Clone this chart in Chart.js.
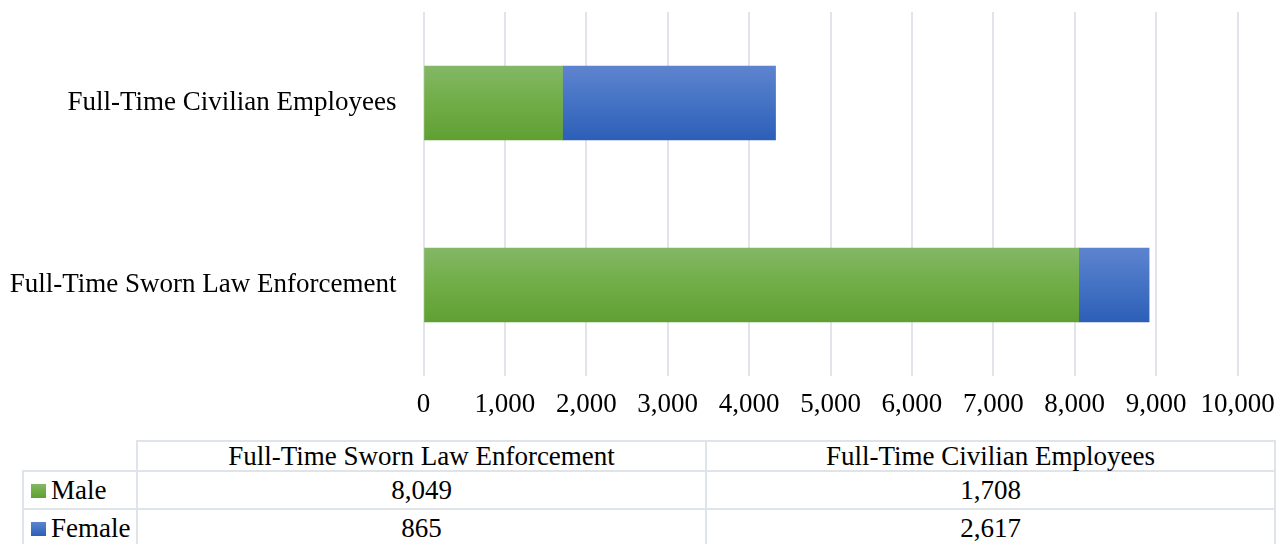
<!DOCTYPE html>
<html>
<head>
<meta charset="utf-8">
<script src="https://cdn.jsdelivr.net/npm/chart.js@4"></script>
<style>
  body { margin: 0; padding: 0; background: #fff; width: 1287px; height: 544px; overflow: hidden; position: relative; }
  #myChart { position: absolute; left: 0; top: 0; }
  #dataTable {
    position: absolute; left: 22px; top: 440px;
    border-collapse: collapse; table-layout: fixed;
    font-family: "Liberation Serif", "Times New Roman", serif;
    font-size: 27px; color: #000;
  }
  #dataTable td { border: 2px solid #dfe3ea; padding: 0; text-align: center; white-space: nowrap; line-height: 1; }
  #dataTable tr.head td { height: 28px; }
  #dataTable tr.row td { height: 36px; }
  #dataTable td.corner { border-top: none; border-left: none; }
  #dataTable td.key { text-align: left; padding-left: 7px; }
  .swatch { display: inline-block; width: 15px; height: 14px; margin-right: 5px; vertical-align: 1px; }
</style>
</head>
<body>
<canvas id="myChart" width="1287" height="432"></canvas>
<table id="dataTable"></table>
<script>
const categories = ['Full-Time Sworn Law Enforcement', 'Full-Time Civilian Employees'];
const maleValues = [8049, 1708];
const femaleValues = [865, 2617];
const xMin = 0;
const xMax = 10000;
const xStep = 1000;

const fontFamily = '"Liberation Serif", "Times New Roman", serif';

const seriesStyles = {
  Male: ['#84b766', '#70ad47', '#60a032'],
  Female: ['#5e84cf', '#4472c4', '#2d5fb8']
};

function barGradient(stops) {
  return (ctx) => {
    const chart = ctx.chart;
    const y = chart.scales && chart.scales.y;
    if (!y || ctx.type !== 'data') return stops[1];
    const c = y.getPixelForValue(ctx.dataIndex);
    if (!isFinite(c)) return stops[1];
    const g = chart.ctx.createLinearGradient(0, c - 37, 0, c + 37);
    g.addColorStop(0, stops[0]);
    g.addColorStop(0.5, stops[1]);
    g.addColorStop(1, stops[2]);
    return g;
  };
}

// data table under the chart
const fmt = (v) => v.toLocaleString('en-US');
const table = document.getElementById('dataTable');
let html = '<colgroup><col style="width:114px"><col style="width:569px"><col style="width:569px"></colgroup>';
html += '<tr class="head"><td class="corner"></td>' + categories.map(c => '<td>' + c + '</td>').join('') + '</tr>';
const rows = [['Male', maleValues], ['Female', femaleValues]];
rows.forEach(([name, vals]) => {
  const s = seriesStyles[name];
  html += '<tr class="row"><td class="key"><span class="swatch" style="background:linear-gradient(' + s[0] + ',' + s[1] + ',' + s[2] + ')"></span>' + name + '</td>' +
    vals.map(v => '<td>' + fmt(v) + '</td>').join('') + '</tr>';
});
table.innerHTML = html;

const chart = new Chart(document.getElementById('myChart'), {
  type: 'bar',
  data: {
    labels: categories,
    datasets: [
      { label: 'Male', data: maleValues, backgroundColor: barGradient(seriesStyles.Male), barThickness: 74 },
      { label: 'Female', data: femaleValues, backgroundColor: barGradient(seriesStyles.Female), barThickness: 74 }
    ]
  },
  options: {
    indexAxis: 'y',
    responsive: false,
    animation: false,
    devicePixelRatio: 1,
    layout: { padding: { top: 12, right: 49.5, left: 0, bottom: 0 } },
    plugins: { legend: { display: false }, tooltip: { enabled: false } },
    scales: {
      x: {
        stacked: true,
        min: xMin,
        max: xMax,
        ticks: { stepSize: xStep, padding: 13, color: '#000', font: { family: fontFamily, size: 27 }, maxRotation: 0 },
        grid: { color: '#e1e5eb', lineWidth: 2, drawTicks: false },
        border: { display: false },
        afterFit: (s) => { s.height = 56; s.paddingLeft = 0; s.paddingRight = 0; }
      },
      y: {
        stacked: true,
        reverse: true,
        ticks: { padding: 27, color: '#000', font: { family: fontFamily, size: 27 } },
        grid: { display: false, drawTicks: false },
        border: { display: false },
        afterFit: (s) => { s.width = 423.5; s.paddingTop = 0; s.paddingBottom = 0; }
      }
    }
  }
});
chart.update();
</script>
</body>
</html>
